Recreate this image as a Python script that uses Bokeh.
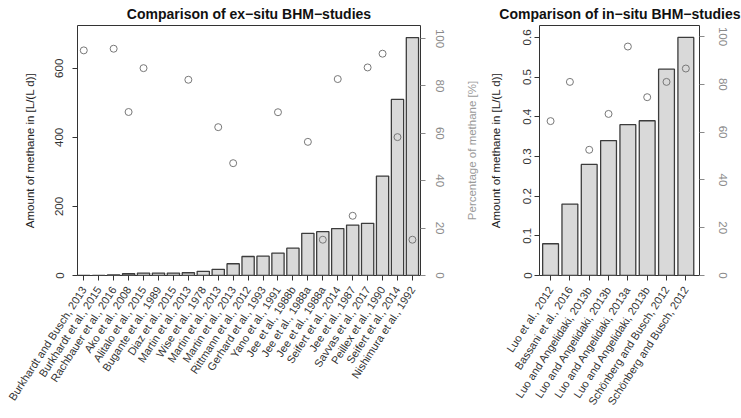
import math
from bokeh.plotting import figure
from bokeh.models import Range1d, LinearAxis, FixedTicker, NumeralTickFormatter
from bokeh.layouts import row
from bokeh.embed import file_html
from bokeh.resources import INLINE

# ---------------- data ----------------
ex_labels = [
    "Burkhardt and Busch, 2013", "Burkhardt et al., 2015", "Rachbauer et al., 2016",
    "Ako et al., 2008", "Alitalo et al., 2015", "Bugante et al., 1989",
    "Diaz et al., 2015", "Martin et al., 2013", "Wise et al., 1978",
    "Martin et al., 2013", "Martin et al., 2013", "Rittmann et al., 2012",
    "Gerhard et al., 1993", "Yano et al., 1991", "Jee et al., 1988b",
    "Jee et al., 1988a", "Jee et al., 1988a", "Seifert et al., 2014",
    "Jee et al., 1987", "Savvas et al., 2017", "Peillex et al., 1990",
    "Seifert et al., 2014", "Nishimura et al., 1992",
]
ex_amount = [0.2, 0.6, 2, 5, 7, 7, 7, 8, 12, 18, 34, 55, 56, 65, 79,
             122, 127, 136, 146, 151, 288, 510, 689]
ex_pct = [95, None, 95.7, 69, 87.5, None, None, 82.6, None, 62.6, 47.4, None,
          None, 68.9, None, 56.4, 15.1, 82.9, 25.2, 87.8, 93.6, 58.4, 15.1]

in_labels = [
    "Luo et al., 2012", "Bassani et al., 2016", "Luo and Angelidaki, 2013b",
    "Luo and Angelidaki, 2013b", "Luo and Angelidaki, 2013a",
    "Luo and Angelidaki, 2013b", "Schönberg and Busch, 2012",
    "Schönberg and Busch, 2012",
]
in_amount = [0.08, 0.18, 0.28, 0.34, 0.38, 0.39, 0.52, 0.60]
in_pct = [64.6, 81.0, 52.6, 67.6, 95.8, 74.6, 81.0, 86.6]

FONT = "Liberation Sans"
BAR_FILL = "#d9d9d9"
BAR_LINE = "#3c3c3c"
PT_COLOR = "#787878"
RIGHT_COL = "#8a8a8a"
LABEL_ANGLE = math.radians(57)


def style_axis(ax, color, ticks):
    ax.ticker = FixedTicker(ticks=ticks)
    ax.minor_tick_line_color = None
    ax.major_tick_in = 0
    ax.major_tick_out = 5
    ax.major_tick_line_color = color
    ax.axis_line_color = None
    ax.major_label_text_color = color
    ax.major_label_text_font = FONT
    ax.major_label_text_font_size = "11.5px"
    ax.axis_label_text_font = FONT
    ax.axis_label_text_font_size = "11.5px"
    ax.axis_label_text_font_style = "normal"


def make_panel(labels, amount, pct, width, height, borders, xr, yr, pr,
               y_ticks, p_ticks, y_fmt, title, title_align, title_offset,
               left_std, left_lab_std, right_std):
    bl, br, bt, bb = borders
    p = figure(width=width, height=height, output_backend="svg",
               toolbar_location=None, x_range=Range1d(*xr), y_range=Range1d(*yr),
               min_border_left=bl, min_border_right=br, min_border_top=bt,
               min_border_bottom=bb)
    p.background_fill_color = "white"
    p.border_fill_color = "white"
    p.outline_line_color = "#333333"
    p.outline_line_width = 1
    p.xgrid.visible = False
    p.ygrid.visible = False
    p.extra_y_ranges = {"pct": Range1d(*pr)}

    p.title.text = title
    p.title.align = title_align
    p.title.offset = title_offset
    p.title.standoff = 7
    p.title.text_font = FONT
    p.title.text_font_size = "14px"
    p.title.text_font_style = "bold"
    p.title.text_color = "#111111"

    xs = list(range(len(labels)))
    p.vbar(x=xs, top=amount, bottom=0, width=0.82, fill_color=BAR_FILL,
           line_color=BAR_LINE, line_width=1.3)
    px = [x for x, v in zip(xs, pct) if v is not None]
    py = [v for v in pct if v is not None]
    p.scatter(x=px, y=py, y_range_name="pct", marker="circle", size=7,
              fill_color=None, line_color=PT_COLOR, line_width=1)

    # bottom axis
    xa = p.xaxis[0]
    style_axis(xa, "#333333", xs)
    xa.major_label_overrides = {i: lab for i, lab in enumerate(labels)}
    xa.major_label_orientation = LABEL_ANGLE
    xa.major_label_standoff = 7
    xa.major_label_text_font_size = "11px"
    xa.major_label_text_color = "#333333"

    # left axis
    ya = p.yaxis[0]
    style_axis(ya, "#333333", y_ticks)
    if y_fmt:
        ya.formatter = NumeralTickFormatter(format=y_fmt)
    ya.major_label_orientation = "vertical"
    ya.major_label_standoff = left_std
    ya.axis_label = "Amount of methane in [L/(L d)]"
    ya.axis_label_standoff = left_lab_std
    ya.axis_label_text_color = "#222222"

    # right axis
    ra = LinearAxis(y_range_name="pct")
    style_axis(ra, RIGHT_COL, p_ticks)
    ra.major_label_orientation = "vertical"
    ra.major_label_standoff = right_std
    p.add_layout(ra, "right")
    return p


p1 = make_panel(ex_labels, ex_amount, ex_pct, 456, 418, (77, 36, 24, 143),
                (-0.42, 22.54), (0, 724), (0, 105.5),
                [0, 200, 400, 600], [0, 20, 40, 60, 80, 100], None,
                "Comparison of ex\u2212situ BHM\u2212studies", "center", 0,
                9, 17, 10)
p2 = make_panel(in_labels, in_amount, in_pct, 285, 418, (83, 42, 25, 143),
                (-0.573, 7.707), (0, 0.63), (0, 104.6),
                [0, 0.1, 0.2, 0.3, 0.4, 0.5, 0.6], [0, 20, 40, 60, 80, 100], "0.[0]",
                "Comparison of in\u2212situ BHM\u2212studies", "right", -41,
                3, 19, 14)

# secondary-axis title of the ex-situ panel, shown in the gap between panels
pa = LinearAxis(ticker=FixedTicker(ticks=[]))
pa.major_tick_out = 0
pa.major_tick_in = 0
pa.minor_tick_line_color = None
pa.axis_line_color = None
pa.major_label_text_font_size = "0px"
pa.major_label_standoff = 0
pa.axis_label = "Percentage of methane [%]"
pa.axis_label_standoff = 9
pa.axis_label_text_font = FONT
pa.axis_label_text_font_size = "11.5px"
pa.axis_label_text_font_style = "normal"
pa.axis_label_text_color = "#9a9a9a"
p2.add_layout(pa, "left")

layout = row(p1, p2)
open("out.html", "w").write(file_html(layout, INLINE))
